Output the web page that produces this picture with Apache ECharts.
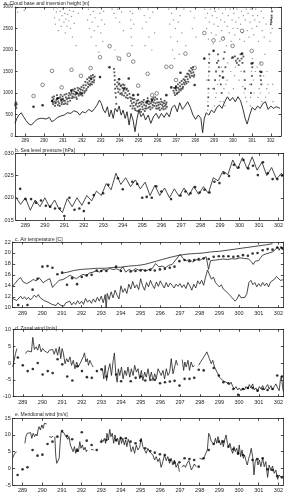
<!DOCTYPE html>
<html>
<head>
<meta charset="utf-8">
<script src="https://cdn.jsdelivr.net/npm/echarts@6/dist/echarts.min.js"></script>
<style>
html,body{margin:0;padding:0;background:#fff}
#main{width:286px;height:501px}
</style>
</head>
<body>
<div id="main"></div>
<script>
// tick labels
var dayTicks = [289,290,291,292,293,294,295,296,297,298,299,300,301,302];
var cloudTicks = [0,500,1000,1500,2000,2500,3000];
var pressTicks = [1.015,1.020,1.025,1.030];
var tempTicks = [10,12,14,16,18,20,22];
var uTicks = [-10,-5,0,5,10];
var vTicks = [-5,0,5,10,15];

// a. cloud base and inversion height
var cloudGrey = [[288.52,2960],[288.6,2880],[288.75,2990],[288.95,2920],
 [290.5,2950],[290.55,2750],[290.6,2600],[290.65,2880],[290.7,2980],[290.75,2450],[290.8,2700],[290.85,2900],[290.9,2550],[290.95,2800],[291.0,2950],[291.05,2650],[291.1,2850],[291.12,2400],[291.15,2720],[291.2,2980],[291.22,2550],[291.25,2830],[291.3,2680],[291.35,2920],[291.4,2500],[291.45,2780],[291.5,2300],[291.55,2900],[291.6,2620],[291.7,2100],[291.8,2850],
 [292.3,2700],[292.35,2950],[292.4,2500],[292.45,2820],[292.5,2300],[292.55,2650],[292.6,2900],[292.65,2450],[292.7,2750],[292.75,2100],[292.8,2980],[292.85,2550],[292.9,1950],[292.95,2850],[293.0,2400],[293.05,2700],[293.1,2200],[293.15,2900],[293.2,2600],
 [293.6,2950],[293.7,2850],[293.75,2000],[293.8,2750],[293.85,1850],[293.9,2950],[294.0,2650],[294.05,1750],[294.1,2880],[294.2,2450],
 [294.55,2900],[294.58,2700],[294.6,2500],[294.62,2300],[294.65,2100],[294.68,2850],[294.75,2600],
 [295.1,2950],[295.2,2500],[295.3,2800],[295.35,2100],[295.4,2650],[295.5,2950],[295.55,2300],[295.6,2750],[295.7,2000],[295.75,2880],[295.85,2400],
 [296.6,2950],[296.65,2600],[296.7,2300],[296.75,2850],[296.8,2000],[296.85,2700],[296.9,1800],[296.95,2500],[297.0,2950],[297.05,2200],[297.1,2650],[297.15,1900],[297.2,2800],[297.3,2400],[297.4,2950],[297.5,2100],
 [297.75,2900],[297.85,2500],[297.95,2750],[298.05,2300],
 [298.5,2950],[298.55,2750],[298.6,2500],[298.62,1300],[298.65,2850],[298.7,2250],[298.75,2650],[298.78,1500],[298.8,2950],[298.85,2400],[298.9,2800],[298.92,1100],[298.95,2150],[299.0,2600],[299.05,2900],[299.08,900],[299.1,2350],[299.15,2750],[299.2,2550],[299.25,2950],[299.28,1300],[299.3,2200],[299.35,2700],[299.4,2450],[299.45,2850],[299.48,800],[299.5,2300],[299.55,2650],[299.6,2950],[299.62,1200],[299.65,2100],[299.7,2550],[299.75,2800],[299.78,1000],[299.8,2400],[299.85,2950],[299.9,2200],[299.95,2700],[300.0,2500],[300.02,1100],[300.05,2850],[300.1,2350],[300.15,2650],[300.2,2950],[300.25,2500],[300.28,900],[300.3,2750],[300.35,2250],[300.4,2600],[300.45,2900],[300.5,2400],[300.55,2800],[300.6,2200],[300.65,2700],[300.7,2950],[300.72,800],[300.75,2450],[300.8,2850],[300.85,2300],[300.88,1200],[300.9,2650],[300.95,2950],[301.0,2500],[301.05,2800],[301.1,2350],[301.12,1000],[301.15,2700],[301.2,2950],[301.25,2550],[301.3,2800],[301.35,2200],[301.38,1100],[301.4,2650],[301.5,2900],[301.55,2450],[301.6,2750],[301.65,2300],[301.7,1900],[301.72,900],[301.75,2600],[301.8,1500],[301.85,1200],[301.9,1000],
 [298.66,600],[298.67,800],[298.69,1000],[298.71,1400],[298.73,1600],[298.75,1800],[299.02,700],[299.12,1000],[299.18,1200],[299.32,800],[299.38,1600],[299.52,1100],[299.58,700],[299.68,1300],[299.72,1700],[299.88,1500],[299.92,1800],[300.08,1400],[300.12,1600],[300.32,1300],[300.42,1500],[300.52,1150],[300.58,1000],[300.66,900],[300.92,700],[300.93,900],[300.98,1500],[301.02,1800],[301.08,1300],[301.18,1500],[301.28,1600],[301.32,900],[301.44,1000],[301.46,1700],[301.52,800],[301.62,1400],[301.78,1100],[301.95,2200],[302.0,2400],[302.08,2500],[302.1,1200],[302.12,800]];

var cloudBand = [[288.47,720],[288.48,760],[288.5,700],[288.52,780],[288.53,650],[288.55,740],
 [290.42,820],[290.46,780],[290.5,860],[290.55,800],[290.6,760],[290.65,840],[290.7,880],[290.75,800],[290.8,760],[290.85,900],[290.9,820],[290.95,780],[291.0,860],[291.05,740],[291.1,820],[291.15,900],[291.2,860],[291.25,800],[291.3,940],[291.35,880],[291.4,960],[291.45,1000],[291.5,920],[291.55,980],[291.6,1040],[291.65,960],[291.7,900],[291.75,1000],[291.8,1060],[291.85,980],[291.9,1020],[291.95,1080],[292.0,1000],[292.05,1060],[292.1,1120],[292.15,1040],[292.2,1180],[292.25,1100],[292.3,1240],[292.35,1200],[292.4,1280],[292.45,1220],[292.5,1320],[292.55,1260],[292.6,1360],[292.65,1300],
 [290.44,900],[290.48,740],[290.53,920],[290.58,700],[290.63,780],[290.68,950],[290.73,720],[290.78,880],[290.83,700],[290.88,960],[290.93,740],[290.98,920],[291.03,820],[291.08,960],[291.13,760],[291.18,980],[291.23,740],[291.28,880],[291.33,1000],[291.38,820],[291.43,1060],[291.48,880],[291.53,1080],[291.58,900],[291.63,1100],[291.68,1020],[291.73,860],[291.78,1120],[291.83,940],[291.88,1100],[291.93,960],[291.98,1140],[292.03,940],[292.08,1180],[292.13,1000],[292.18,1260],[292.23,1060],[292.28,1320],[292.33,1140],[292.38,1360],[292.43,1180],[292.48,1400],[292.53,1200],[292.58,1420],[292.63,1250],[292.68,1380],
 [293.7,1560],[293.72,1480],[293.73,1400],[293.74,1300],[293.75,1200],[293.76,1100],[293.78,1000],[293.8,900],[293.82,750],[293.85,1150],[293.9,1100],[293.95,1200],[294.0,1080],[294.05,1160],[294.1,1000],[294.15,1120],[294.2,1050],[294.25,1180],[294.3,1000],[294.35,1080],[294.4,950],[294.45,1050],
 [293.88,1250],[293.93,1020],[293.98,1220],[294.03,980],[294.08,1180],[294.13,960],[294.18,1200],[294.23,940],[294.28,1120],[294.33,900],[294.38,1100],[294.43,880],
 [294.55,900],[294.6,820],[294.65,760],[294.7,860],[294.72,700],[294.75,780],[294.8,640],[294.85,720],[294.9,820],[294.95,680],[295.0,760],[295.05,700],[295.1,620],[295.15,740],[295.2,680],[295.25,780],[295.3,720],[295.35,640],[295.4,700],[295.45,760],[295.5,820],[295.55,740],[295.6,680],[295.65,760],[295.7,800],[295.75,720],[295.8,780],[295.85,840],[295.9,760],[295.95,700],[296.0,780],[296.05,720],[296.1,660],[296.15,740],[296.2,800],[296.25,720],[296.3,680],[296.35,760],[296.4,700],[296.45,740],[296.5,680],
 [294.52,980],[294.57,700],[294.63,880],[294.68,640],[294.78,860],[294.83,600],[294.88,760],[294.93,580],[294.98,840],[295.03,600],[295.08,780],[295.13,560],[295.18,800],[295.23,620],[295.28,840],[295.33,580],[295.38,780],[295.43,640],[295.48,880],[295.53,660],[295.58,800],[295.63,620],[295.68,860],[295.73,660],[295.78,880],[295.83,700],[295.88,900],[295.93,640],[295.98,860],[296.03,640],[296.08,780],[296.13,600],[296.18,860],[296.23,640],[296.28,780],[296.33,620],[296.38,820],[296.43,640],[296.48,780],
 [296.85,1050],[296.9,1000],[296.95,1100],[297.0,1060],[297.05,1000],[297.1,1120],[297.15,1080],[297.2,1160],[297.25,1100],[297.3,1200],[297.35,1140],[297.4,1240],[297.45,1300],[297.5,1260],[297.55,1380],[297.6,1320],[297.65,1440],[297.7,1400],[297.75,1500],[297.8,1460],[297.85,1540],[297.9,1480],[297.95,1420],
 [296.88,1120],[296.93,950],[296.98,1160],[297.03,980],[297.08,1200],[297.13,1020],[297.18,1240],[297.23,1060],[297.28,1280],[297.33,1100],[297.38,1320],[297.43,1200],[297.48,1380],[297.53,1220],[297.58,1450],[297.63,1260],[297.68,1520],[297.73,1360],[297.78,1580],[297.83,1400],[297.88,1600],[297.93,1380],
 [298.68,700],[298.69,900],[298.7,1100],[298.71,1300],[298.72,1500],[298.73,1700],[298.74,1900],
 [299.0,1100],[299.05,1300],[299.1,1500],[299.15,1700],[299.2,1900],[299.22,1750],[299.25,1600],[299.3,1400],[299.35,1200],[299.4,1000],[299.45,1500],[299.5,1800],[299.55,1950],[299.6,1600],
 [300.1,1850],[300.15,1750],[300.2,1700],[300.25,1800],[300.3,1650],[300.35,1750],[300.4,1900],[300.45,1800],[300.5,1700],[300.55,1850],[300.6,1500],[300.62,1300],[300.64,1100],
 [300.95,1000],[300.97,1200],[301.0,1400],[301.02,1600],[301.05,1700],
 [301.42,1500],[301.45,1400],[301.48,1300],[301.5,1200],
 [302.0,2600],[302.02,2700],[302.03,2650],[302.04,2800],[302.05,2750],[302.06,2900]];

var inversionLine = [[288.46,294],[288.56,410],[288.67,487],[288.79,541],[288.91,448],[289.05,356],[289.19,278],[289.33,255],[289.49,332],[289.63,387],[289.79,410],[289.92,410],[290.1,394],[290.27,433],[290.41,332],[290.55,371],[290.71,433],[290.88,464],[291.06,487],[291.23,541],[291.41,526],[291.58,587],[291.76,557],[291.88,487],[292.02,564],[292.19,541],[292.37,618],[292.54,564],[292.68,642],[292.8,719],[292.93,835],[293.03,757],[293.14,603],[293.24,541],[293.35,680],[293.45,448],[293.55,603],[293.66,410],[293.76,642],[293.87,564],[293.97,696],[294.08,487],[294.18,603],[294.29,410],[294.39,564],[294.5,255],[294.6,526],[294.71,371],[294.81,100],[294.92,410],[295.02,603],[295.13,448],[295.25,526],[295.37,371],[295.51,487],[295.65,294],[295.79,448],[295.93,526],[296.07,410],[296.21,526],[296.35,433],[296.49,541],[296.63,448],[296.77,665],[296.91,719],[297.05,564],[297.18,773],[297.32,618],[297.46,696],[297.6,796],[297.74,665],[297.88,487],[298.02,387],[298.16,487],[298.3,410],[298.39,77],[298.48,410],[298.58,541],[298.72,487],[298.86,603],[299.0,541],[299.14,665],[299.28,719],[299.42,642],[299.56,796],[299.7,912],[299.84,819],[299.98,897],[300.12,796],[300.26,912],[300.4,819],[300.54,603],[300.64,410],[300.75,278],[300.88,487],[301.02,665],[301.16,603],[301.3,696],[301.44,642],[301.58,757],[301.72,796],[301.86,618],[302.0,696],[302.14,642],[302.28,680],[302.39,665],[302.49,642]];

var soundingOpen = [[289.44,930],[289.92,1190],[290.42,1515],[290.93,1130],[291.45,1540],[291.95,1400],[292.46,1578],[292.96,1832],[293.47,2088],[293.97,1801],[294.48,1888],[294.72,1730],[294.98,1170],[295.48,1446],[295.72,950],[295.96,990],[296.47,1610],[296.73,1610],[296.98,1300],[297.48,1915],[297.97,1585],[298.48,2395],[298.97,2225],[299.47,2265],[299.98,2095],[300.48,2445],[300.99,1980],[301.5,1685]];

var soundingFilled = [[289.44,680],[289.92,715],[290.43,815],[290.71,870],[290.92,850],[291.45,1055],[291.72,990],[291.98,990],[292.48,1338],[292.96,1370],[293.46,1600],[293.97,1320],[294.22,1100],[294.48,1338],[294.72,950],[294.97,960],[295.45,800],[295.72,835],[296.47,950],[296.73,1130],[296.98,1130],[297.22,1470],[297.97,1185],[298.48,1800],[298.97,1980],[299.47,1360],[299.98,1825],[300.48,1915],[300.99,1685],[301.5,1490]];

// b. sea level pressure
var pressLine = [[288.5,1.0202],[288.75,1.0185],[289.0,1.0200],[289.25,1.0172],[289.5,1.0195],[289.75,1.0180],[290.0,1.0200],[290.25,1.0178],[290.5,1.0195],[290.72,1.0175],[290.9,1.0167],[291.15,1.0198],[291.4,1.0180],[291.65,1.0200],[291.9,1.0183],[292.15,1.0205],[292.4,1.0193],[292.65,1.0215],[292.9,1.0205],[293.15,1.0232],[293.4,1.0218],[293.65,1.0255],[293.9,1.0230],[294.15,1.0245],[294.4,1.0225],[294.65,1.0240],[294.9,1.0220],[295.15,1.0235],[295.4,1.0205],[295.65,1.0228],[295.9,1.0205],[296.15,1.0222],[296.4,1.0200],[296.65,1.0220],[296.9,1.0203],[297.15,1.0222],[297.4,1.0205],[297.65,1.0225],[297.9,1.0208],[298.15,1.0225],[298.4,1.0210],[298.65,1.0245],[298.9,1.0238],[299.15,1.0260],[299.4,1.0252],[299.65,1.0285],[299.9,1.0265],[300.15,1.0290],[300.4,1.0265],[300.65,1.0292],[300.9,1.0262],[301.15,1.0280],[301.4,1.0250],[301.65,1.0268],[301.9,1.0242],[302.15,1.0255],[302.25,1.0250]];

var pressDots = [[288.49,1.0189],[288.73,1.0220],[289.0,1.0197],[289.29,1.0197],[289.54,1.0189],[289.8,1.0194],[290.05,1.0182],[290.27,1.0180],[290.52,1.0176],[290.77,1.0176],[291.0,1.0159],[291.26,1.0200],[291.52,1.0173],[291.77,1.0176],[292.0,1.0170],[292.26,1.0188],[292.51,1.0206],[292.99,1.0210],[293.26,1.0229],[293.75,1.0244],[294.0,1.0219],[294.49,1.0236],[294.74,1.0231],[295.0,1.0200],[295.23,1.0202],[295.49,1.0200],[295.72,1.0226],[295.98,1.0214],[296.48,1.0197],[296.97,1.0205],[297.22,1.0214],[297.48,1.0210],[297.72,1.0224],[297.95,1.0212],[298.2,1.0218],[298.46,1.0212],[298.71,1.0236],[298.97,1.0233],[299.2,1.0255],[299.46,1.0249],[299.71,1.0274],[299.95,1.0268],[300.2,1.0285],[300.45,1.0266],[300.69,1.0272],[300.94,1.0251],[301.2,1.0280],[301.45,1.0255],[301.7,1.0242],[301.94,1.0242],[302.18,1.0250]];

// c. air temperature
var tempTop = [[291.0,16.3],[291.3,16.5],[291.6,16.8],[292.0,17.0],[292.4,17.1],[292.8,17.2],[293.2,17.2],[293.6,17.35],[294.0,17.4],[294.4,17.6],[294.8,17.7],[295.2,17.9],[295.5,18.2],[295.8,18.5],[296.1,18.8],[296.5,19.2],[297.0,19.6],[297.4,19.8],[297.8,19.9],[298.2,20.0],[298.6,20.2],[299.0,20.3],[299.4,20.5],[299.8,20.7],[300.2,20.9],[300.6,21.1],[301.0,21.3],[301.4,21.5],[301.7,21.7]];

var tempMid = [[288.49,13.9],[288.61,14.4],[288.78,15.15],[288.9,15.5],[289.03,14.7],[289.2,14.4],[289.37,14.7],[289.54,15.15],[289.71,14.9],[289.84,15.5],[290.05,14.55],[290.22,15.0],[290.39,15.3],[290.52,13.7],[290.69,14.4],[290.86,15.0],[291.06,15.15],[291.23,15.5],[291.4,15.9],[291.57,15.6],[291.74,15.3],[291.91,15.75],[292.07,16.1],[292.24,15.9],[292.41,16.35],[292.58,16.5],[292.75,16.7],[292.92,16.5],[293.09,16.97],[293.26,16.85],[293.43,17.15],[293.6,16.97],[293.77,17.1],[293.94,16.85],[294.1,17.45],[294.24,16.5],[294.41,16.97],[294.58,16.7],[294.74,17.15],[294.91,16.85],[295.08,17.0],[295.25,16.7],[295.42,16.97],[295.59,17.15],[295.76,18.06],[295.93,17.45],[296.09,17.6],[296.26,17.3],[296.43,17.75],[296.6,17.9],[296.77,18.67],[296.91,19.3],[297.01,19.75],[297.16,18.97],[297.31,18.55],[297.48,18.8],[297.65,18.36],[297.82,18.8],[297.99,18.6],[298.16,19.0],[298.33,19.3],[298.45,17.0],[298.55,18.6],[298.8,18.7],[299.0,18.8],[299.2,18.9],[299.42,18.8],[299.64,18.95],[299.84,18.9],[300.05,19.1],[300.27,19.0],[300.49,18.9],[300.62,18.4],[300.72,17.9],[300.82,18.5],[300.99,18.6],[301.11,19.2],[301.2,19.6],[301.36,19.8],[301.53,20.0],[301.7,20.2],[301.84,20.6],[301.96,21.1],[302.04,20.5],[302.13,21.2],[302.21,20.6],[302.25,20.8]];

var tempLow = [[288.5,11.7],[288.6,12.0],[288.7,11.3],[288.8,11.6],[288.9,12.1],[289.0,11.6],[289.1,12.0],[289.2,11.5],[289.3,11.9],[289.4,11.4],[289.5,11.8],[289.6,12.3],[289.7,11.9],[289.8,12.4],[289.9,11.8],[290.0,11.9],[290.1,11.3],[290.2,11.6],[290.3,11.0],[290.4,11.3],[290.5,10.6],[290.6,10.8],[290.7,10.4],[290.8,10.9],[290.9,10.5],[291.0,10.8],[291.1,10.3],[291.2,10.9],[291.3,10.6],[291.4,11.2],[291.5,10.5],[291.6,11.0],[291.7,10.6],[291.8,11.3],[291.9,10.7],[292.0,11.2],[292.1,10.6],[292.2,11.7],[292.3,11.0],[292.4,11.4],[292.5,10.8],[292.6,11.6],[292.7,11.0],[292.8,11.9],[292.9,11.2],[293.0,12.1],[293.1,10.9],[293.2,12.4],[293.25,9.8],[293.3,12.6],[293.4,11.5],[293.5,12.9],[293.6,11.8],[293.7,13.2],[293.8,12.3],[293.9,11.6],[294.0,14.0],[294.1,12.8],[294.2,13.5],[294.3,12.6],[294.4,14.3],[294.5,13.4],[294.6,14.8],[294.7,13.6],[294.8,14.2],[294.9,13.3],[295.0,15.3],[295.1,14.0],[295.2,13.2],[295.3,14.6],[295.4,13.8],[295.5,15.0],[295.6,14.1],[295.7,13.5],[295.8,14.7],[295.9,13.9],[296.0,14.9],[296.1,14.2],[296.2,13.6],[296.3,14.6],[296.4,13.8],[296.5,14.5],[296.6,14.1],[296.7,13.6],[296.8,14.3],[296.9,13.9],[297.0,14.4],[297.1,13.7],[297.2,14.2],[297.3,13.5],[297.4,14.6],[297.5,14.0],[297.6,13.2],[297.7,14.3],[297.8,13.6],[297.9,14.9],[298.0,14.3],[298.1,15.0],[298.2,14.1],[298.3,15.6],[298.4,16.9],[298.5,16.0],[298.6,15.2],[298.7,15.6],[298.8,14.6],[298.9,14.9],[299.0,13.8],[299.1,14.2],[299.2,13.4],[299.3,13.7],[299.4,12.8],[299.5,12.4],[299.6,12.0],[299.7,11.6],[299.8,11.2],[299.9,11.6],[300.0,12.4],[300.1,11.8],[300.2,12.0],[300.3,11.9],[300.4,12.6],[300.5,14.6],[300.6,15.0],[300.7,14.2],[300.8,14.6],[300.9,13.8],[301.0,14.4],[301.1,13.9],[301.2,14.6],[301.3,14.0],[301.4,14.5],[301.5,13.8],[301.6,14.7],[301.7,14.4],[301.8,15.2],[301.9,15.7],[302.0,15.5],[302.1,15.0],[302.2,15.3],[302.25,15.1]];

var tempDots = [[288.49,11.5],[288.78,10.5],[289.25,10.5],[289.51,13.3],[289.76,15.3],[290.01,17.5],[290.27,17.6],[290.52,17.3],[290.77,16.1],[291.01,16.4],[291.26,14.2],[291.52,15.4],[291.77,14.3],[292.01,15.6],[292.26,15.9],[292.51,16.0],[292.77,16.8],[293.0,16.7],[293.26,16.7],[293.75,17.5],[294.0,16.7],[294.49,16.6],[294.74,16.7],[295.0,16.8],[295.23,16.8],[295.49,16.9],[295.72,16.8],[295.98,17.0],[296.23,17.1],[296.48,17.3],[296.72,17.5],[296.97,18.5],[297.23,18.7],[297.48,18.5],[297.72,18.7],[297.95,18.9],[298.2,19.0],[298.46,18.9],[298.71,19.3],[298.97,19.4],[299.2,19.4],[299.46,19.4],[299.71,19.3],[299.95,19.4],[300.2,19.6],[300.45,19.5],[300.69,19.9],[300.94,20.0],[301.2,20.5],[301.45,20.7],[301.7,20.6],[301.94,21.0],[302.18,20.9]];

// d. zonal wind (null = gap)
var uLine = [[288.49,-1.2],[288.56,0.8],[288.63,2.8],[288.7,4.3],[288.8,null],
 [289.14,2.8],[289.24,3.6],[289.34,4.0],[289.44,3.3],[289.51,7.6],[289.59,4.0],[289.68,4.8],[289.76,3.8],[289.84,5.6],[289.93,3.3],[290.01,4.3],[290.1,3.6],[290.18,4.0],[290.27,3.0],[290.35,3.8],[290.44,3.3],[290.52,4.0],[290.6,2.6],[290.69,4.3],[290.77,2.3],[290.86,4.8],[290.93,1.3],[291.0,4.3],[291.06,3.0],[291.15,-0.2],[291.23,1.3],[291.31,0.3],[291.4,1.8],[291.48,-0.7],[291.57,0.8],[291.65,-1.7],[291.74,0.3],[291.82,-1.2],[291.91,-0.2],[291.99,-0.7],[292.07,1.8],[292.14,3.0],[292.21,0.3],[292.28,1.3],[292.34,-0.7],[292.41,0.8],[292.5,-0.4],[292.58,-1.2],[292.7,null],
 [293.05,-1.7],[293.12,-4.7],[293.19,-0.7],[293.26,-5.2],[293.34,-2.2],[293.43,-0.2],[293.51,-3.7],[293.6,0.8],[293.66,3.0],[293.73,-3.2],[293.8,-5.7],[293.86,-1.7],[293.93,-3.7],[294.02,-1.2],[294.1,-4.7],[294.19,-2.2],[294.27,-3.7],[294.35,-1.2],[294.44,-4.2],[294.52,-1.7],[294.61,-3.7],[294.69,-0.7],[294.78,-2.7],[294.86,-1.7],[294.95,-4.7],[295.03,-2.2],[295.11,-5.2],[295.2,-2.7],[295.28,-4.2],[295.37,-1.7],[295.45,-4.7],[295.54,-2.7],[295.62,-5.2],[295.71,-3.2],[295.79,-4.7],[295.88,-1.7],[295.96,-1.2],[296.04,-3.7],[296.13,-2.2],[296.21,-4.7],[296.3,-1.7],[296.38,-3.7],[296.47,-2.7],[296.55,1.3],[296.64,-3.2],[296.72,-1.2],[296.8,0.8],[296.87,-0.7],[297.0,null],
 [297.11,1.0],[297.18,-2.2],[297.24,0.3],[297.31,-1.2],[297.4,0.8],[297.48,-2.2],[297.56,0.3],[297.65,-1.2],[297.73,-0.7],[297.85,null],
 [297.95,-0.7],[298.04,0.3],[298.12,-0.2],[298.21,1.8],[298.29,1.3],[298.36,3.3],[298.43,3.8],[298.49,1.3],[298.58,-0.2],[298.66,0.8],[298.75,-1.2],[298.83,-1.7],[298.92,-3.2],[299.0,-4.2],[299.08,-3.7],[299.17,-5.2],[299.25,-4.7],[299.34,-5.7],[299.42,-5.2],[299.51,-6.4],[299.59,-5.7],[299.68,-7.0],[299.76,-7.7],[299.84,-7.0],[299.93,-8.0],[300.01,-7.4],[300.1,-8.2],[300.18,-7.4],[300.27,-8.0],[300.35,-7.0],[300.44,-7.7],[300.52,-6.4],[300.6,-7.4],[300.69,-6.2],[300.77,-8.0],[300.86,-7.4],[300.94,-8.4],[301.03,-7.0],[301.11,-7.7],[301.2,-6.7],[301.28,-8.0],[301.36,-7.2],[301.45,-6.4],[301.53,-7.7],[301.62,-6.7],[301.7,-8.0],[301.79,-7.0],[301.87,-6.2],[301.96,-7.4],[302.04,-8.2],[302.1,-5.0],[302.15,-3.9],[302.2,-6.5],[302.25,-8.5]];

var uDots = [[288.49,-1.0],[288.75,1.6],[289.0,-0.7],[289.25,-2.4],[289.51,-1.8],[289.76,0.0],[290.01,-3.4],[290.27,-2.4],[290.52,-3.0],[290.77,1.1],[291.01,-0.4],[291.26,-4.0],[291.52,-5.2],[291.77,-1.0],[292.01,-2.4],[292.26,-4.2],[292.51,-4.4],[292.77,-2.4],[293.0,-1.9],[293.26,-4.0],[293.75,-3.4],[294.0,-5.4],[294.49,-5.4],[294.74,-4.4],[295.0,-4.0],[295.23,-5.2],[295.49,-5.0],[295.72,-5.0],[295.98,-6.0],[296.23,-5.7],[296.48,-5.5],[296.72,-5.3],[296.97,-6.7],[297.23,-4.7],[297.48,-4.7],[297.72,-4.4],[297.95,-2.0],[298.2,-2.2],[298.71,-1.5],[298.97,-3.7],[299.2,-5.7],[299.46,-6.0],[299.71,-7.7],[299.95,-9.4],[300.2,-7.7],[300.45,-7.4],[300.69,-7.4],[300.94,-8.2],[301.2,-7.7],[301.45,-8.0],[301.7,-7.7],[301.94,-3.7],[302.18,-4.0]];

// e. meridional wind (null = gap)
var vLine = [[288.49,3.0],[288.56,4.0],[288.63,4.7],[288.7,4.9],[288.8,null],
 [289.12,7.5],[289.17,9.5],[289.24,10.5],[289.32,11.0],[289.41,10.7],[289.47,9.0],[289.54,10.5],[289.61,9.5],[289.68,10.3],[289.74,9.7],[289.79,11.5],[289.84,12.5],[289.91,11.5],[289.98,13.0],[290.05,12.0],[290.11,13.5],[290.18,13.7],[290.23,13.3],[290.3,null],
 [290.35,9.5],[290.42,9.7],[290.49,9.3],[290.55,9.7],[290.6,null],
 [290.64,9.5],[290.69,3.5],[290.74,1.5],[290.81,2.0],[290.86,3.0],[290.91,7.5],[290.96,11.0],[291.03,11.3],[291.09,10.7],[291.16,10.0],[291.23,10.5],[291.3,8.7],[291.36,9.5],[291.43,7.0],[291.5,7.5],[291.57,5.0],[291.64,6.5],[291.7,4.5],[291.77,6.0],[291.84,5.0],[291.91,8.0],[291.97,6.0],[292.04,7.0],[292.11,5.5],[292.18,6.3],[292.24,5.0],[292.29,5.5],[292.4,null],
 [292.48,5.7],[292.55,5.3],[292.61,5.5],[292.8,null],
 [293.0,8.7],[293.09,8.0],[293.16,9.0],[293.22,7.5],[293.29,10.5],[293.36,8.5],[293.43,11.7],[293.49,9.5],[293.56,10.5],[293.63,7.5],[293.7,10.0],[293.76,8.0],[293.83,9.0],[293.9,7.0],[293.97,9.5],[294.03,7.5],[294.1,9.0],[294.17,7.0],[294.24,8.5],[294.3,6.5],[294.37,8.7],[294.44,7.5],[294.52,5.0],[294.61,6.5],[294.69,4.5],[294.78,7.0],[294.86,5.5],[294.95,6.3],[295.03,9.0],[295.11,6.5],[295.2,5.5],[295.28,4.5],[295.37,6.0],[295.45,5.0],[295.54,5.5],[295.62,4.0],[295.71,2.5],[295.79,3.5],[295.88,2.0],[295.96,3.0],[296.04,0.3],[296.13,2.0],[296.21,4.0],[296.3,2.3],[296.38,3.5],[296.47,1.5],[296.55,3.0],[296.64,1.0],[296.72,2.5],[296.8,0.3],[296.89,1.5],[296.97,-1.0],[297.05,null],
 [297.11,0.3],[297.19,1.0],[297.28,0.3],[297.36,1.5],[297.45,2.3],[297.51,1.0],[297.58,-0.5],[297.65,0.3],[297.73,1.3],[297.82,0.5],[297.9,null],
 [297.99,3.0],[298.07,3.5],[298.16,2.7],[298.24,3.5],[298.32,4.0],[298.39,5.5],[298.46,10.5],[298.53,9.5],[298.59,8.0],[298.66,8.5],[298.73,7.3],[298.8,9.0],[298.86,7.5],[298.93,9.5],[299.0,8.0],[299.07,7.0],[299.14,8.5],[299.2,6.5],[299.27,8.5],[299.34,10.0],[299.41,7.5],[299.47,6.5],[299.54,7.5],[299.61,5.5],[299.68,4.5],[299.74,6.5],[299.81,5.0],[299.88,6.0],[299.95,4.0],[300.01,7.0],[300.08,3.5],[300.15,5.5],[300.22,3.0],[300.28,4.0],[300.35,2.3],[300.42,1.0],[300.49,3.0],[300.55,4.0],[300.62,6.0],[300.69,3.5],[300.76,-2.0],[300.82,2.0],[300.89,3.0],[300.96,1.0],[301.03,2.5],[301.11,0.5],[301.2,3.0],[301.28,0.5],[301.36,2.0],[301.45,-2.7],[301.53,1.0],[301.62,-0.7],[301.7,0.7],[301.79,-1.5],[301.87,-0.5],[301.96,-3.3],[302.04,-2.0],[302.13,-2.7],[302.21,-2.3]];

var vDots = [[288.49,-3.0],[288.75,-2.0],[289.0,-0.3],[289.25,0.3],[289.51,5.5],[289.76,3.8],[290.01,4.1],[290.27,7.3],[290.52,8.0],[290.77,9.5],[291.01,11.2],[291.26,9.7],[291.52,8.7],[291.77,5.3],[292.01,10.8],[292.26,8.3],[292.51,7.0],[292.77,5.5],[293.0,8.0],[293.26,8.5],[293.75,8.5],[294.0,9.0],[294.25,9.0],[294.49,8.0],[294.74,7.5],[295.0,8.3],[295.23,6.0],[295.49,5.2],[295.72,4.7],[295.98,4.2],[296.23,4.0],[296.48,2.5],[296.72,1.7],[296.97,1.8],[297.23,3.0],[297.48,2.8],[297.72,2.5],[297.95,0.5],[298.2,3.0],[298.46,5.5],[298.71,7.3],[298.97,8.0],[299.2,8.0],[299.46,6.5],[299.71,5.7],[299.95,4.5],[300.2,4.0],[300.69,2.5],[300.94,2.8],[301.2,3.0],[301.45,-0.3],[301.7,-0.5],[301.94,-2.3],[302.18,-2.7]];

var titles = ['a. Cloud base and inversion height [m]', 'b. Sea level pressure [hPa]', 'c. Air temperature [C]', 'd. Zonal wind [m/s]', 'e. Meridional wind [m/s]'];

var FONT = 'Liberation Sans';
var INK = '#1e1e1e';

var myChart = echarts.init(document.getElementById('main'), null, {renderer: 'canvas'});

var grids = [
    {left: 12, right: 5, top: 7, height: 129},
    {left: 12.7, right: 1.7, top: 153.3, height: 66.7},
    {left: 12.7, right: 1.7, top: 242, height: 65.7},
    {left: 12.7, right: 1.7, top: 329.3, height: 67.4},
    {left: 12.7, right: 1.7, top: 418.3, height: 66.7}
];
var xRange = [[288.46, 302.54], [288.5, 302.25], [288.5, 302.25], [288.5, 302.25], [288.5, 302.25]];
var yRange = [[0, 3000], [1.015, 1.030], [10, 22], [-10, 10], [-5, 15]];
var yTicks = [cloudTicks, pressTicks, tempTicks, uTicks, vTicks];
var labelSize = [4.5, 5.5, 5.5, 5.5, 5.5];
var titlePos = [[4, 1], [15, 148.2], [15, 237.6], [15, 326], [15, 412.6]];

var line = {color: INK, width: 0.8};
var xAxes = [], yAxes = [];
grids.forEach(function (g, i) {
    [['bottom', true], ['top', false]].forEach(function (p) {
        xAxes.push({
            gridIndex: i, type: 'value', position: p[0],
            min: xRange[i][0], max: xRange[i][1],
            axisLine: {show: true, onZero: false, lineStyle: line},
            axisTick: {show: true, inside: true, length: 2.5, customValues: dayTicks, lineStyle: line},
            axisLabel: {show: p[1], customValues: dayTicks, fontSize: labelSize[i], fontFamily: FONT, color: INK, margin: 2.5},
            splitLine: {show: false}
        });
    });
    [['left', true], ['right', false]].forEach(function (p) {
        yAxes.push({
            gridIndex: i, type: 'value', position: p[0],
            min: yRange[i][0], max: yRange[i][1],
            axisLine: {show: true, onZero: false, lineStyle: line},
            axisTick: {show: true, inside: true, length: 2.5, customValues: yTicks[i], lineStyle: line},
            axisLabel: {
                show: p[1], customValues: yTicks[i], fontSize: labelSize[i], fontFamily: FONT, color: INK, margin: 2,
                formatter: i == 1 ? function (v) { return v.toFixed(3).slice(1); } : function (v) { return String(Math.round(v)); }
            },
            splitLine: {show: false}
        });
    });
});

function lineSeries(i, data, w) {
    return {type: 'line', xAxisIndex: 2 * i, yAxisIndex: 2 * i, data: data, symbol: 'none',
        connectNulls: false, lineStyle: {color: INK, width: w || 0.8}, animation: false, z: 3};
}
function dotSeries(i, data, size) {
    return {type: 'scatter', xAxisIndex: 2 * i, yAxisIndex: 2 * i, data: data, symbol: 'circle',
        symbolSize: size || 2.6, itemStyle: {color: '#000'}, animation: false, z: 4};
}

var option = {
    backgroundColor: '#fff',
    animation: false,
    title: titles.map(function (t, i) {
        return {text: t, left: titlePos[i][0], top: titlePos[i][1], padding: 0,
            textStyle: {fontSize: 5, fontWeight: 'normal', fontFamily: FONT, color: INK, lineHeight: 5}};
    }),
    grid: grids,
    xAxis: xAxes,
    yAxis: yAxes,
    series: [
        {type: 'scatter', xAxisIndex: 0, yAxisIndex: 0, data: cloudGrey, symbol: 'rect', symbolSize: 1.2,
            itemStyle: {color: '#7a7a7a'}, animation: false, z: 1},
        {type: 'scatter', xAxisIndex: 0, yAxisIndex: 0, data: cloudBand, symbol: 'rect', symbolSize: 1.8,
            itemStyle: {color: '#2a2a2a'}, animation: false, z: 2},
        lineSeries(0, inversionLine, 0.9),
        {type: 'scatter', xAxisIndex: 0, yAxisIndex: 0, data: soundingOpen, symbol: 'circle', symbolSize: 3.6,
            itemStyle: {color: 'rgba(0,0,0,0)', borderColor: '#333', borderWidth: 0.7}, animation: false, z: 4},
        dotSeries(0, soundingFilled, 2.6),
        lineSeries(1, pressLine),
        dotSeries(1, pressDots),
        lineSeries(2, tempTop),
        lineSeries(2, tempMid),
        lineSeries(2, tempLow),
        dotSeries(2, tempDots),
        lineSeries(3, uLine),
        dotSeries(3, uDots),
        lineSeries(4, vLine),
        dotSeries(4, vDots)
    ]
};

option && myChart.setOption(option);
</script>
</body>
</html>
